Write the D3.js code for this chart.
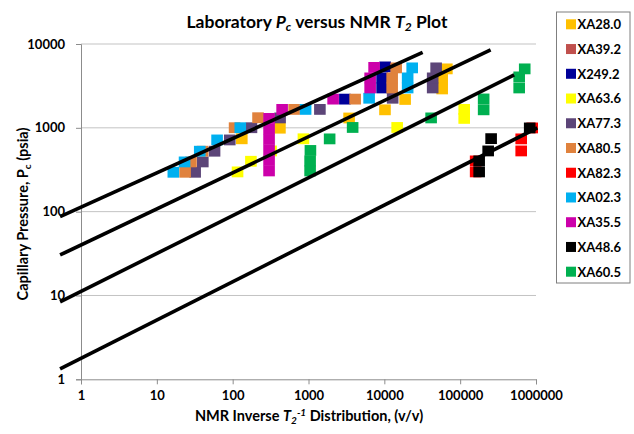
<!DOCTYPE html>
<html>
<head>
<meta charset="utf-8">
<script src="https://cdn.jsdelivr.net/npm/d3@7"></script>
<style>
  body { margin: 0; background: #fff; }
  svg { display: block; font-family: Lato, "Open Sans", sans-serif; }
</style>
</head>
<body>
<svg id="chart" width="634" height="434"></svg>
<script>
// Sample names and marker colours, in drawing order
const seriesNames  = ["XA28.0", "XA39.2", "X249.2", "XA63.6", "XA77.3", "XA80.5", "XA82.3", "XA02.3", "XA35.5", "XA48.6", "XA60.5"];
const seriesColors = ["#FFC000", "#C0504D", "#000099", "#FFFF00", "#5C4578", "#E0823D", "#FF0000", "#00B0F0", "#CC00AA", "#000000", "#00B050"];

// [inverse T2 distribution (v/v), capillary pressure (psia)] per sample
const xa280 = [[132, 740], [420, 990], [3430, 1310], [10200, 1640], [18800, 2180], [57900, 2910], [57900, 3830], [66800, 5050]];
const xa392 = [];
const x2492 = [[3020, 2200], [9350, 2990], [9350, 3940], [10250, 5330]];
const xa636 = [[116, 298], [174, 399], [321, 530], [857, 740], [14760, 1010], [113000, 1295], [113000, 1660]];
const xa773 = [[32, 295], [40.4, 392], [57.7, 526], [91.6, 717], [177, 1003], [422, 1313], [1413, 1659], [12870, 2254], [43400, 2990], [43400, 3940], [48200, 5190]];
const xa805 = [[23.6, 295], [28.2, 392], [40.1, 526], [106, 1003], [216, 1320], [646, 1659], [4120, 2200], [12680, 2990], [12680, 3940], [14320, 5190]];
const xa823 = [[160000, 298], [160000, 403], [638000, 530], [638000, 738], [891000, 997]];
const xa023 = [[16.5, 295], [23.2, 392], [36.8, 526], [62.3, 717], [126, 1003], [916, 1659], [6300, 2254], [20300, 2990], [20300, 3940], [23300, 5190]];
const xa355 = [[302, 306], [302, 408], [302, 545], [302, 727], [302, 970], [302, 1295], [449, 1659], [2112, 2200], [6500, 2990], [6500, 3940], [7330, 5260]];
const xa486 = [[178000, 298], [178000, 403], [234000, 530], [256000, 743], [826000, 997]];
const xa605 = [[1050, 306], [1050, 403], [1060, 537], [1900, 738], [3820, 1010], [41400, 1313], [204000, 1640], [204000, 2210], [600000, 2990], [600000, 4050], [710000, 5050]];
const seriesData = [xa280, xa392, x2492, xa636, xa773, xa805, xa823, xa023, xa355, xa486, xa605];

// Power-law trend lines: start and end points [x, Pc]
const trendStart = [[0.53, 87], [0.53, 30.4], [0.53, 8.4], [0.53, 1.33]];
const trendEnd   = [[32000, 7940], [252000, 8500], [515000, 4280], [1040000, 1000]];

// Axis ticks
const xTicks = [1, 10, 100, 1000, 10000, 100000, 1000000];
const yTicks = [1, 10, 100, 1000, 10000];

const svg = d3.select("#chart");
const x = d3.scaleLog().domain([1, 1e6]).range([81, 536]);
const y = d3.scaleLog().domain([1, 1e4]).range([379.3, 44]);

// Horizontal gridlines
svg.append("g").selectAll("line").data(yTicks.slice(1)).join("line")
  .attr("x1", x(1)).attr("x2", x(1e6))
  .attr("y1", d => y(d)).attr("y2", d => y(d))
  .attr("stroke", "#c3c3c3").attr("stroke-width", 1);

// Axes
const fmt = d3.format("d");
const xAxis = svg.append("g").attr("transform", `translate(0,${y(1)})`)
  .call(d3.axisBottom(x).tickValues(xTicks).tickFormat(fmt).tickSize(5).tickPadding(6));
const yAxis = svg.append("g").attr("transform", `translate(${x(1)},0)`)
  .call(d3.axisLeft(y).tickValues(yTicks).tickFormat(fmt).tickSize(5).tickPadding(11));
[xAxis, yAxis].forEach(g => {
  g.select(".domain").attr("stroke", "#8c8c8c");
  g.selectAll(".tick line").attr("stroke", "#8c8c8c");
  g.selectAll(".tick text").attr("fill", "#000").attr("font-size", "13px")
    .attr("font-weight", "bold").attr("font-family", "Lato, 'Open Sans', sans-serif");
});

// Markers
const mw = 11.6, mh = 10.8;
seriesData.forEach((pts, i) => {
  svg.append("g").selectAll("rect").data(pts).join("rect")
    .attr("x", d => x(d[0]) - mw / 2).attr("y", d => y(d[1]) - mh / 2)
    .attr("width", mw).attr("height", mh)
    .attr("fill", seriesColors[i]);
});

// Trend lines
svg.append("g").selectAll("line").data(trendStart).join("line")
  .attr("x1", d => x(d[0])).attr("y1", d => y(d[1]))
  .attr("x2", (d, i) => x(trendEnd[i][0])).attr("y2", (d, i) => y(trendEnd[i][1]))
  .attr("stroke", "#000").attr("stroke-width", 3.6);

// Title
const title = svg.append("text").attr("x", 317).attr("y", 28)
  .attr("text-anchor", "middle").attr("font-size", "17.5px").attr("font-weight", "bold");
title.append("tspan").text("Laboratory ");
title.append("tspan").attr("font-style", "italic").text("P");
title.append("tspan").attr("font-style", "italic").attr("font-size", "12px").attr("dy", 3).text("c");
title.append("tspan").attr("dy", -3).text(" versus NMR ");
title.append("tspan").attr("font-style", "italic").text("T");
title.append("tspan").attr("font-style", "italic").attr("font-size", "12px").attr("dy", 3).text("2");
title.append("tspan").attr("dy", -3).text(" Plot");

// X axis title
const xt = svg.append("text").attr("x", 309).attr("y", 421)
  .attr("text-anchor", "middle").attr("font-size", "14.5px").attr("font-weight", "bold");
xt.append("tspan").text("NMR Inverse ");
xt.append("tspan").attr("font-style", "italic").text("T");
xt.append("tspan").attr("font-style", "italic").attr("font-size", "10px").attr("dy", 3).text("2");
xt.append("tspan").attr("font-style", "italic").attr("font-size", "10px").attr("dy", -8).text("-1");
xt.append("tspan").attr("dy", 5).text(" Distribution, (v/v)");

// Y axis title
const yt = svg.append("text").attr("transform", "translate(28,214) rotate(-90)")
  .attr("text-anchor", "middle").attr("font-size", "14.5px").attr("font-weight", "bold");
yt.append("tspan").text("Capillary Pressure, P");
yt.append("tspan").attr("font-size", "10px").attr("dy", 3).text("c");
yt.append("tspan").attr("dy", -3).text(" (psia)");

// Legend
const lg = svg.append("g");
lg.append("rect").attr("x", 556.5).attr("y", 12).attr("width", 73.5).attr("height", 271)
  .attr("fill", "#fff").attr("stroke", "#7f7f7f").attr("stroke-width", 1);
const items = lg.selectAll("g.item").data(seriesNames).join("g")
  .attr("class", "item").attr("transform", (d, i) => `translate(566,${24.3 + i * 24.74})`);
items.append("rect").attr("x", 0).attr("y", -5).attr("width", 10).attr("height", 10)
  .attr("fill", (d, i) => seriesColors[i]);
items.append("text").attr("x", 11.5).attr("y", 4.8)
  .attr("font-size", "13px").attr("font-weight", "bold").text(d => d);
</script>
</body>
</html>
